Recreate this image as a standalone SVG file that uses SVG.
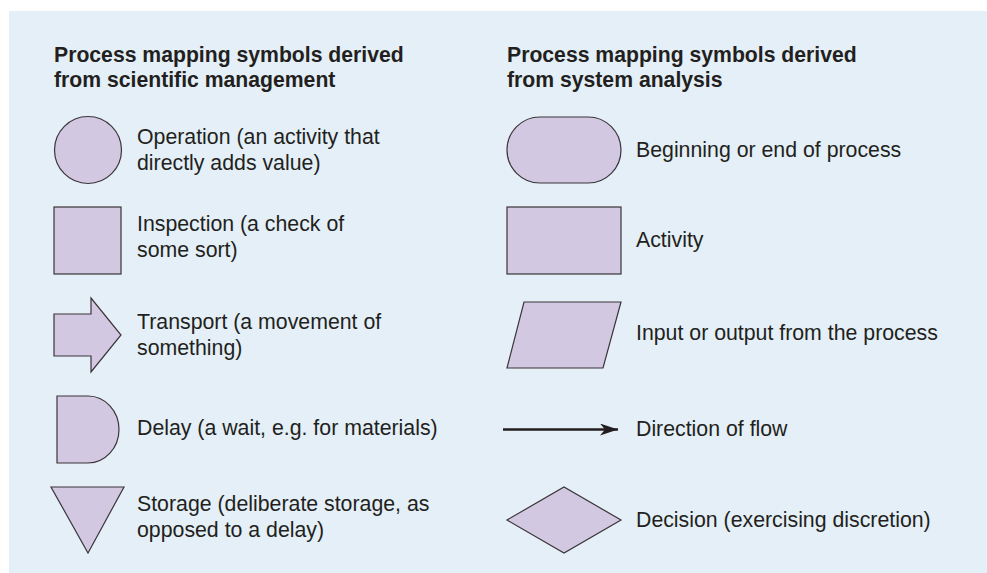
<svg xmlns="http://www.w3.org/2000/svg" width="987" height="573" viewBox="0 0 987 573">
<style>
.bg{fill:#e4eff7}
.sh{fill:#d3c8e1;stroke:#3a3538;stroke-width:1.2}
.t{font-family:"Liberation Sans",Arial,sans-serif;font-size:21.3px;fill:#231f20}
.h{font-family:"Liberation Sans",Arial,sans-serif;font-size:21.2px;font-weight:bold;fill:#231f20}
.ln{stroke:#231f20;stroke-width:2.4;fill:none}
</style>
<defs>
<marker id="ah" markerWidth="20" markerHeight="14" refX="18" refY="6" orient="auto" markerUnits="userSpaceOnUse">
<path d="M0,0 L18,6 L0,12 L5,6 Z" fill="#231f20"/>
</marker>
</defs>
<rect class="bg" x="9" y="11" width="978" height="562"/>
<g id="titles">
<text class="h" x="54" y="62">Process mapping symbols derived</text>
<text class="h" x="54" y="87">from scientific management</text>
<text class="h" x="507" y="62">Process mapping symbols derived</text>
<text class="h" x="507" y="87">from system analysis</text>
</g>
<g id="operation">
<circle class="sh" cx="88" cy="150" r="33.5"/>
<text class="t" x="137" y="144">Operation (an activity that</text>
<text class="t" x="137" y="170">directly adds value)</text>
</g>
<g id="inspection">
<rect class="sh" x="54" y="207" width="67" height="67"/>
<text class="t" x="137" y="231">Inspection (a check of</text>
<text class="t" x="137" y="257">some sort)</text>
</g>
<g id="transport">
<path class="sh" d="M54,314 H91 V298 L121,335 L91,372 V356 H54 Z"/>
<text class="t" x="137" y="329">Transport (a movement of</text>
<text class="t" x="137" y="355">something)</text>
</g>
<g id="delay">
<path class="sh" d="M57,396 H88 A31,33.5 0 0 1 88,463 H57 Z"/>
<text class="t" x="137" y="435">Delay (a wait, e.g. for materials)</text>
</g>
<g id="storage">
<path class="sh" d="M51,487 H124 L88,553 Z"/>
<text class="t" x="137" y="511">Storage (deliberate storage, as</text>
<text class="t" x="137" y="537">opposed to a delay)</text>
</g>
<g id="terminal">
<rect class="sh" x="507" y="117" width="114" height="66" rx="33" ry="33"/>
<text class="t" x="636" y="157">Beginning or end of process</text>
</g>
<g id="activity">
<rect class="sh" x="507" y="207" width="114" height="67"/>
<text class="t" x="636" y="247">Activity</text>
</g>
<g id="io">
<path class="sh" d="M524,302 H621 L603,368 H507 Z"/>
<text class="t" x="636" y="340">Input or output from the process</text>
</g>
<g id="connectors">
<line class="ln" x1="503" y1="429.5" x2="618" y2="429.5" marker-end="url(#ah)"/>
</g>
<g id="flow">
<text class="t" x="636" y="436">Direction of flow</text>
</g>
<g id="decision">
<path class="sh" d="M507,520 L564,487 L621,520 L564,553 Z"/>
<text class="t" x="636" y="527">Decision (exercising discretion)</text>
</g>
</svg>
